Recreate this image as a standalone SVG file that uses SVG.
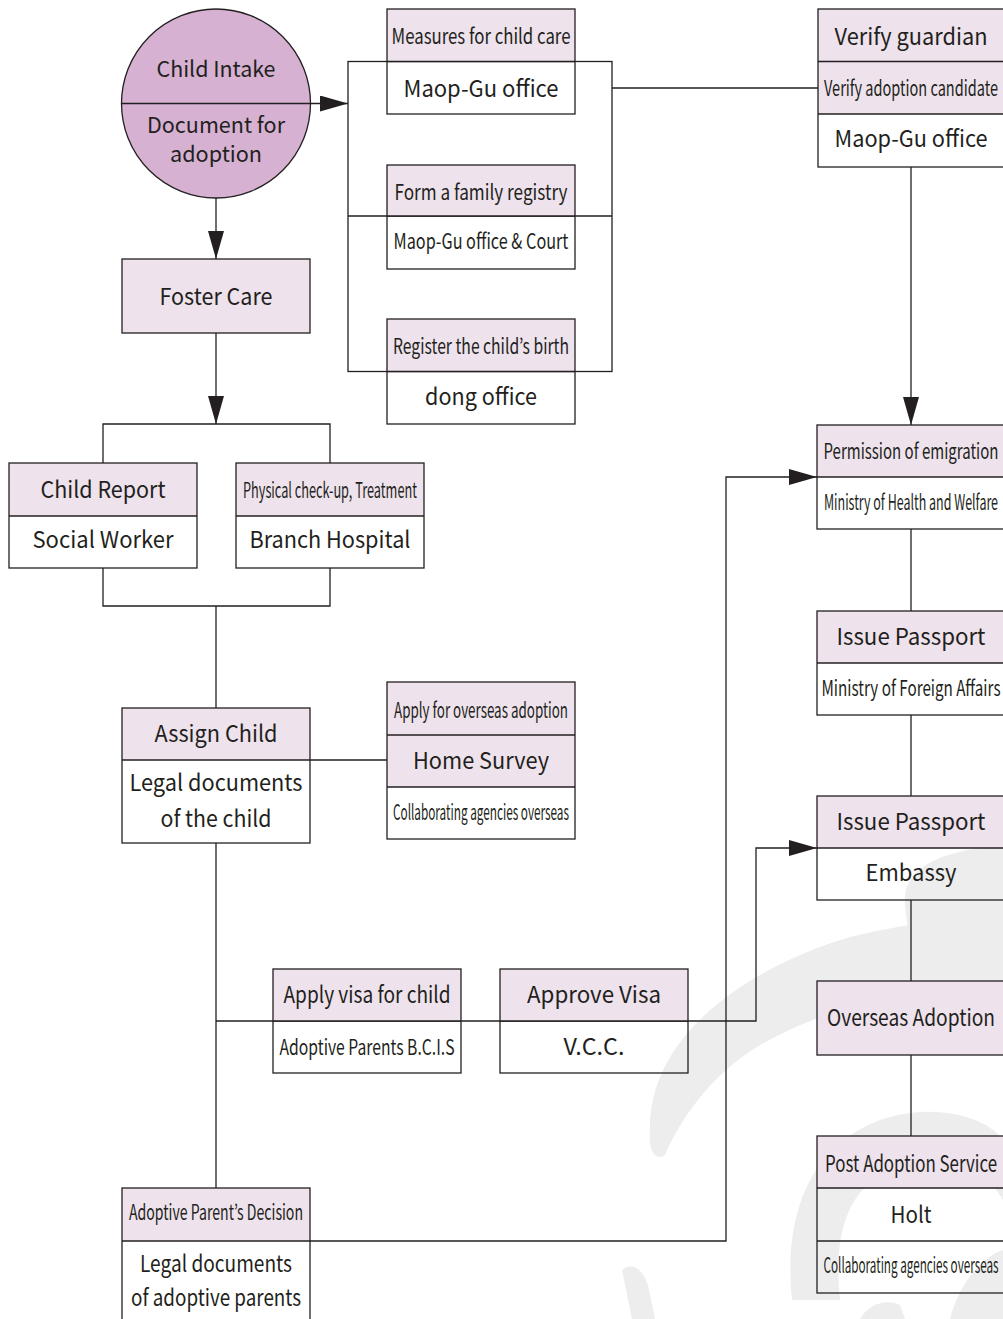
<svg xmlns="http://www.w3.org/2000/svg" width="1003" height="1319" viewBox="0 0 1003 1319">
<defs>
<style>
.bx{fill:none;stroke:#231f20;stroke-width:1.3}
.hd{fill:#eee2ec;stroke:none}
.ln{fill:none;stroke:#231f20;stroke-width:1.3}
.wm{fill:#ededed;stroke:none}
text{font-family:"Noto Sans CJK KR","Noto Sans",sans-serif;fill:#231f20;text-anchor:middle}
.a{font-size:23px}
.b{font-size:21px}
.c{font-size:22px}
</style>
<marker id="ah" markerUnits="userSpaceOnUse" markerWidth="28" markerHeight="16" refX="28" refY="8" orient="auto">
<path d="M0,0 L28,8 L0,16 z" fill="#231f20"/>
</marker>
</defs>
<rect width="1003" height="1319" fill="#ffffff"/>
<g id="watermark">
<path class="wm" d="M650 1130 C648 1040 740 970 850 937 C920 920 970 918 1003 917 L1003 990 C930 985 840 1000 760 1045 C710 1075 680 1120 665 1155 C655 1162 648 1150 650 1130 Z"/>
<path class="wm" d="M905 905 C902 872 930 852 1003 845 L1003 925 L908 932 Z"/>
<path class="wm" d="M792 1300 C785 1230 800 1150 880 1120 C940 1100 990 1120 1003 1140 L1003 1200 C980 1160 930 1150 880 1175 C840 1200 835 1250 840 1300 Z"/>
<path class="wm" d="M950 1319 C960 1280 985 1255 1003 1250 L1003 1319 Z"/>
<path class="wm" d="M622 1270 C632 1262 642 1268 648 1285 L655 1319 L632 1319 Z"/>
<path class="wm" d="M860 1319 C868 1305 885 1298 900 1305 L905 1319 Z"/>
</g>
<g id="connectors">
<line class="ln" x1="122" y1="103.5" x2="348" y2="103.5" marker-end="url(#ah)"/>
<line class="ln" x1="216" y1="198" x2="216" y2="259" marker-end="url(#ah)"/>
<rect class="ln" x="348" y="61.5" width="264" height="310"/>
<line class="ln" x1="348" y1="216" x2="612" y2="216"/>
<line class="ln" x1="612" y1="88" x2="818" y2="88"/>
<line class="ln" x1="911" y1="167" x2="911" y2="425" marker-end="url(#ah)"/>
<line class="ln" x1="216" y1="333" x2="216" y2="424" marker-end="url(#ah)"/>
<path class="ln" d="M103 463 V424 H330 V463"/>
<path class="ln" d="M103 568 V606 H330 V568"/>
<line class="ln" x1="216" y1="606" x2="216" y2="708"/>
<line class="ln" x1="310" y1="760" x2="387" y2="760"/>
<line class="ln" x1="216" y1="843" x2="216" y2="1188"/>
<path class="ln" d="M216 1021 H756 V848 H817" marker-end="url(#ah)"/>
<path class="ln" d="M310 1241 H726 V477 H817" marker-end="url(#ah)"/>
<line class="ln" x1="911" y1="529" x2="911" y2="611"/>
<line class="ln" x1="911" y1="715" x2="911" y2="796"/>
<line class="ln" x1="911" y1="900" x2="911" y2="981"/>
<line class="ln" x1="911" y1="1055" x2="911" y2="1136"/>
</g>
<g id="n-intake">
<circle cx="216" cy="103.5" r="94.5" fill="#d6b1d1" stroke="#231f20" stroke-width="1.3"/>
<line class="ln" x1="122" y1="103.5" x2="310" y2="103.5"/>
<text class="c" x="216" y="77" textLength="119" lengthAdjust="spacingAndGlyphs">Child Intake</text>
<text class="c" x="216" y="133" textLength="138" lengthAdjust="spacingAndGlyphs">Document for</text>
<text class="c" x="216" y="162" textLength="92" lengthAdjust="spacingAndGlyphs">adoption</text>
</g>
<g id="n-measures">
<rect class="hd" x="387" y="9" width="188" height="52.5"/>
<rect class="bx" x="387" y="9" width="188" height="105"/>
<line class="ln" x1="387" y1="61.5" x2="575" y2="61.5"/>
<text class="b" x="481" y="44" textLength="179" lengthAdjust="spacingAndGlyphs">Measures for child care</text>
<text class="a" x="481" y="97" textLength="155" lengthAdjust="spacingAndGlyphs">Maop-Gu office</text>
</g>
<g id="n-family">
<rect class="hd" x="387" y="165" width="188" height="51"/>
<rect class="bx" x="387" y="165" width="188" height="104"/>
<line class="ln" x1="387" y1="216" x2="575" y2="216"/>
<text class="b" x="481" y="200" textLength="173" lengthAdjust="spacingAndGlyphs">Form a family registry</text>
<text class="b" x="481" y="249" textLength="175" lengthAdjust="spacingAndGlyphs">Maop-Gu office &amp; Court</text>
</g>
<g id="n-birth">
<rect class="hd" x="387" y="319" width="188" height="52.5"/>
<rect class="bx" x="387" y="319" width="188" height="105"/>
<line class="ln" x1="387" y1="371.5" x2="575" y2="371.5"/>
<text class="b" x="481" y="354" textLength="176" lengthAdjust="spacingAndGlyphs">Register the child’s birth</text>
<text class="a" x="481" y="405" textLength="112" lengthAdjust="spacingAndGlyphs">dong office</text>
</g>
<g id="n-verify">
<rect class="hd" x="818" y="9" width="186" height="105"/>
<rect class="bx" x="818" y="9" width="186" height="158"/>
<line class="ln" x1="818" y1="61.5" x2="1004" y2="61.5"/>
<line class="ln" x1="818" y1="114" x2="1004" y2="114"/>
<text class="a" x="911" y="45" textLength="153" lengthAdjust="spacingAndGlyphs">Verify guardian</text>
<text class="b" x="911" y="96" textLength="174" lengthAdjust="spacingAndGlyphs">Verify adoption candidate</text>
<text class="a" x="911" y="147" textLength="153" lengthAdjust="spacingAndGlyphs">Maop-Gu office</text>
</g>
<g id="n-foster">
<rect class="hd" x="122" y="259" width="188" height="74"/>
<rect class="bx" x="122" y="259" width="188" height="74"/>
<text class="a" x="216" y="305" textLength="113" lengthAdjust="spacingAndGlyphs">Foster Care</text>
</g>
<g id="n-report">
<rect class="hd" x="9" y="463" width="188" height="53"/>
<rect class="bx" x="9" y="463" width="188" height="105"/>
<line class="ln" x1="9" y1="516" x2="197" y2="516"/>
<text class="a" x="103" y="498" textLength="125" lengthAdjust="spacingAndGlyphs">Child Report</text>
<text class="a" x="103" y="548" textLength="141" lengthAdjust="spacingAndGlyphs">Social Worker</text>
</g>
<g id="n-physical">
<rect class="hd" x="236" y="463" width="188" height="53"/>
<rect class="bx" x="236" y="463" width="188" height="105"/>
<line class="ln" x1="236" y1="516" x2="424" y2="516"/>
<text class="b" x="330" y="498" textLength="174" lengthAdjust="spacingAndGlyphs">Physical check-up, Treatment</text>
<text class="a" x="330" y="548" textLength="161" lengthAdjust="spacingAndGlyphs">Branch Hospital</text>
</g>
<g id="n-assign">
<rect class="hd" x="122" y="708" width="188" height="52"/>
<rect class="bx" x="122" y="708" width="188" height="135"/>
<line class="ln" x1="122" y1="760" x2="310" y2="760"/>
<text class="a" x="216" y="742" textLength="123" lengthAdjust="spacingAndGlyphs">Assign Child</text>
<text class="a" x="216" y="791" textLength="173" lengthAdjust="spacingAndGlyphs">Legal documents</text>
<text class="a" x="216" y="827" textLength="111" lengthAdjust="spacingAndGlyphs">of the child</text>
</g>
<g id="n-homesurvey">
<rect class="hd" x="387" y="682" width="188" height="105"/>
<rect class="bx" x="387" y="682" width="188" height="157"/>
<line class="ln" x1="387" y1="735" x2="575" y2="735"/>
<line class="ln" x1="387" y1="787" x2="575" y2="787"/>
<text class="b" x="481" y="718" textLength="174" lengthAdjust="spacingAndGlyphs">Apply for overseas adoption</text>
<text class="a" x="481" y="769" textLength="136" lengthAdjust="spacingAndGlyphs">Home Survey</text>
<text class="b" x="481" y="820" textLength="176" lengthAdjust="spacingAndGlyphs">Collaborating agencies overseas</text>
</g>
<g id="n-permission">
<rect class="hd" x="817" y="425" width="187" height="52"/>
<rect class="bx" x="817" y="425" width="187" height="104"/>
<line class="ln" x1="817" y1="477" x2="1004" y2="477"/>
<text class="b" x="911" y="459" textLength="175" lengthAdjust="spacingAndGlyphs">Permission of emigration</text>
<text class="b" x="911" y="510" textLength="174" lengthAdjust="spacingAndGlyphs">Ministry of Health and Welfare</text>
</g>
<g id="n-passport1">
<rect class="hd" x="817" y="611" width="187" height="52"/>
<rect class="bx" x="817" y="611" width="187" height="104"/>
<line class="ln" x1="817" y1="663" x2="1004" y2="663"/>
<text class="a" x="911" y="645" textLength="149" lengthAdjust="spacingAndGlyphs">Issue Passport</text>
<text class="b" x="911" y="696" textLength="179" lengthAdjust="spacingAndGlyphs">Ministry of Foreign Affairs</text>
</g>
<g id="n-passport2">
<rect class="hd" x="817" y="796" width="187" height="52"/>
<rect class="bx" x="817" y="796" width="187" height="104"/>
<line class="ln" x1="817" y1="848" x2="1004" y2="848"/>
<text class="a" x="911" y="830" textLength="149" lengthAdjust="spacingAndGlyphs">Issue Passport</text>
<text class="a" x="911" y="881" textLength="91" lengthAdjust="spacingAndGlyphs">Embassy</text>
</g>
<g id="n-overseas">
<rect class="hd" x="817" y="981" width="187" height="74"/>
<rect class="bx" x="817" y="981" width="187" height="74"/>
<text class="a" x="911" y="1026" textLength="168" lengthAdjust="spacingAndGlyphs">Overseas Adoption</text>
</g>
<g id="n-post">
<rect class="hd" x="817" y="1136" width="187" height="52"/>
<rect class="bx" x="817" y="1136" width="187" height="157"/>
<line class="ln" x1="817" y1="1188" x2="1004" y2="1188"/>
<line class="ln" x1="817" y1="1241" x2="1004" y2="1241"/>
<text class="a" x="911" y="1172" textLength="172" lengthAdjust="spacingAndGlyphs">Post Adoption Service</text>
<text class="a" x="911" y="1223" textLength="41" lengthAdjust="spacingAndGlyphs">Holt</text>
<text class="b" x="911" y="1273" textLength="175" lengthAdjust="spacingAndGlyphs">Collaborating agencies overseas</text>
</g>
<g id="n-visa">
<rect class="hd" x="273" y="969" width="188" height="52"/>
<rect class="bx" x="273" y="969" width="188" height="104"/>
<line class="ln" x1="273" y1="1021" x2="461" y2="1021"/>
<text class="a" x="367" y="1003" textLength="167" lengthAdjust="spacingAndGlyphs">Apply visa for child</text>
<text class="b" x="367" y="1055" textLength="175" lengthAdjust="spacingAndGlyphs">Adoptive Parents B.C.I.S</text>
</g>
<g id="n-approve">
<rect class="hd" x="500" y="969" width="188" height="52"/>
<rect class="bx" x="500" y="969" width="188" height="104"/>
<line class="ln" x1="500" y1="1021" x2="688" y2="1021"/>
<text class="a" x="594" y="1003" textLength="134" lengthAdjust="spacingAndGlyphs">Approve Visa</text>
<text class="a" x="594" y="1055" textLength="61" lengthAdjust="spacingAndGlyphs">V.C.C.</text>
</g>
<g id="n-decision">
<rect class="hd" x="122" y="1188" width="188" height="53"/>
<rect class="bx" x="122" y="1188" width="188" height="150"/>
<line class="ln" x1="122" y1="1241" x2="310" y2="1241"/>
<text class="b" x="216" y="1220" textLength="174" lengthAdjust="spacingAndGlyphs">Adoptive Parent’s Decision</text>
<text class="a" x="216" y="1272" textLength="152" lengthAdjust="spacingAndGlyphs">Legal documents</text>
<text class="a" x="216" y="1306" textLength="170" lengthAdjust="spacingAndGlyphs">of adoptive parents</text>
</g>
</svg>
